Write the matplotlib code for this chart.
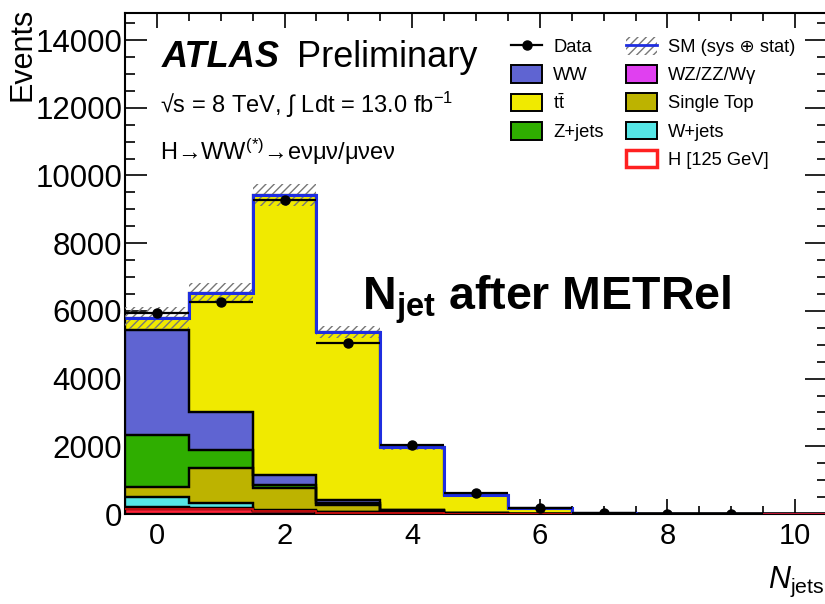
import numpy as np
import matplotlib
matplotlib.use("Agg")
import matplotlib.pyplot as plt
from matplotlib.patches import Patch
from matplotlib.lines import Line2D

plt.rcParams['font.family'] = ['Liberation Sans', 'DejaVu Sans']
plt.rcParams['mathtext.fontset'] = 'custom'
plt.rcParams['mathtext.rm'] = 'Liberation Sans'
plt.rcParams['mathtext.it'] = 'Liberation Sans:italic'
plt.rcParams['mathtext.bf'] = 'Liberation Sans:bold'
plt.rcParams['hatch.linewidth'] = 1.0

# number of jets, one bin per value
njets = [0, 1, 2, 3, 4, 5, 6, 7, 8, 9, 10]

# background estimates, stacked from bottom to top
higgs = [150, 140, 80, 40, 15, 5, 2, 1, 0, 0, 0]
wz_zz_wg = [60, 50, 20, 10, 5, 2, 1, 0, 0, 0, 0]
w_jets = [290, 140, 30, 20, 5, 2, 1, 0, 0, 0, 0]
single_top = [300, 1030, 640, 200, 60, 15, 4, 1, 0, 0, 0]
z_jets = [1530, 530, 90, 60, 20, 5, 2, 1, 0, 0, 0]
ww = [3100, 1120, 290, 90, 25, 8, 3, 1, 0, 0, 0]
ttbar = [360, 3520, 8270, 4950, 1850, 525, 150, 40, 8, 2, 1]

# systematic + stat uncertainty on the total
sm_err = [330, 300, 320, 180, 80, 30, 10, 4, 2, 1, 0.5]

data = [5940, 6250, 9270, 5050, 2040, 620, 170, 30, 10, 3, 0]

colors = {
    'H': '#ff2238',
    'WZ': '#e040f0',
    'Wj': '#55e6e6',
    'st': '#bdb300',
    'Z': '#2fae00',
    'WW': '#5f64d2',
    'tt': '#f0ea00',
}

fig = plt.figure(figsize=(8.25, 6.04), dpi=100)
ax = fig.add_axes([125 / 825, 90 / 604, 702 / 825, 501 / 604])

edges = np.arange(len(njets) + 1) - 0.5
layers = [(higgs, 'H'), (wz_zz_wg, 'WZ'), (w_jets, 'Wj'), (single_top, 'st'),
          (z_jets, 'Z'), (ww, 'WW'), (ttbar, 'tt')]

bottom = np.zeros(len(njets))
for vals, key in layers:
    vals = np.array(vals, dtype=float)
    ax.stairs(bottom + vals, edges, baseline=bottom.copy(), fill=True,
              facecolor=colors[key], edgecolor='none', zorder=2)
    ax.stairs(bottom + vals, edges, baseline=bottom.copy(), fill=False,
              color='black', linewidth=1.6, zorder=3)
    bottom = bottom + vals
total = bottom

# uncertainty band
err = np.array(sm_err)
ax.stairs(total + err, edges, baseline=total - err, fill=True,
          facecolor='none', edgecolor='#777777', hatch='////', linewidth=0, zorder=4)
ax.stairs(total, edges, baseline=None, color='#1f2ee0', linewidth=2.2, zorder=5)

# higgs outline along bottom
ax.stairs(higgs, edges, baseline=None, color='#e01010', linewidth=1.2, zorder=5)

d = np.array(data, dtype=float)
x = np.array(njets)
m = d > 0
ax.errorbar(x[m], d[m], xerr=0.5, fmt='o', color='black', ms=6.5,
            elinewidth=1.6, capsize=0, zorder=6)

ax.set_xlim(-0.5, 10.5)
ax.set_ylim(0, 14800)
ax.set_xticks(np.arange(0, 11, 2))
ax.set_xticks(np.arange(-0.5, 10.6, 0.5), minor=True)
ax.set_yticks(np.arange(0, 14001, 2000))
ax.set_yticks(np.arange(0, 14801, 500), minor=True)
ax.tick_params(which='both', direction='in', top=True, right=True, labelsize=21, width=1.2)
ax.tick_params(axis='y', labelsize=22.5)
ax.tick_params(axis='x', which='major', length=11, pad=6)
ax.tick_params(axis='x', which='minor', length=5.5)
ax.tick_params(axis='y', which='major', length=16, pad=2)
ax.tick_params(axis='y', which='minor', length=7.5)
for s in ax.spines.values():
    s.set_linewidth(1.5)

ax.set_ylabel('Events', fontsize=22, loc='top')
ax.yaxis.set_label_coords(-0.125, 1.01)
fig.text(0.999, 16 / 604, r'$N_{\rm jets}$', fontsize=22, ha='right', va='baseline')

# labels
ax.text(162 / 825, 1 - 67 / 604, 'ATLAS', transform=fig.transFigure, fontsize=26,
        fontweight='bold', fontstyle='italic')
ax.text(297 / 825, 1 - 67 / 604, 'Preliminary', transform=fig.transFigure, fontsize=26)
ax.text(160 / 825, 1 - 113 / 604, r'√s = 8 TeV, ∫ Ldt = 13.0 fb$^{-1}$',
        transform=fig.transFigure, fontsize=17)
ax.text(160 / 825, 1 - 160 / 604, r'H→WW$^{(*)}$→eνμν/μνeν',
        transform=fig.transFigure, fontsize=17)
ax.text(362 / 825, 1 - 310 / 604, r'$\mathbf{N_{jet}}$ after METRel', transform=fig.transFigure,
        fontsize=33.5, fontweight='bold')

# legend
handles = [
    Line2D([], [], color='black', marker='o', ms=6.5, lw=1.6),
    Patch(facecolor=colors['WW'], edgecolor='black', lw=1.4),
    Patch(facecolor=colors['tt'], edgecolor='black', lw=1.4),
    Patch(facecolor=colors['Z'], edgecolor='black', lw=1.4),
    Patch(facecolor='none', edgecolor='none'),
    (Patch(facecolor='white', edgecolor='#777777', hatch='////', lw=0),
     Line2D([], [], color='#1f2ee0', lw=2)),
    Patch(facecolor=colors['WZ'], edgecolor='black', lw=1.4),
    Patch(facecolor=colors['st'], edgecolor='black', lw=1.4),
    Patch(facecolor=colors['Wj'], edgecolor='black', lw=1.4),
    Patch(facecolor='white', edgecolor='#ff2020', lw=2.5),
]
labels = ['Data', 'WW', r't$\bar{\rm t}$', 'Z+jets', '',
          'SM (sys ⊕ stat)', 'WZ/ZZ/Wγ', 'Single Top', 'W+jets', 'H [125 GeV]']
leg = ax.legend(handles, labels, ncol=2, loc='upper left', frameon=False,
                bbox_to_anchor=(511 / 825, 1 - 37 / 604), bbox_transform=fig.transFigure,
                fontsize=13.2, handlelength=1.7, handleheight=1.1, handletextpad=0.6,
                columnspacing=1.2, labelspacing=0.5, borderpad=0, borderaxespad=0)

fig.savefig('out.png', dpi=100)
